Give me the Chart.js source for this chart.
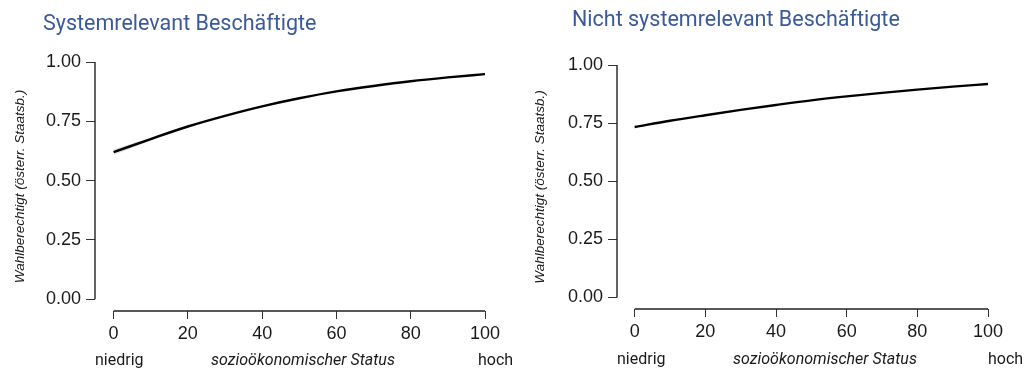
<!DOCTYPE html>
<html>
<head>
<meta charset="utf-8">
<script src="https://cdn.jsdelivr.net/npm/chart.js@4.4.1/dist/chart.umd.min.js"></script>
<style>
  body { margin: 0; background: #fff; width: 1033px; height: 369px; overflow: hidden; position: relative; }
  .panel { position: absolute; top: 0; width: 516px; height: 369px; }
  .title { position: absolute; font: 21.5px Roboto, sans-serif; line-height: 24px; color: #3a5a9a; white-space: nowrap; }
  .lab { position: absolute; font: 16px Roboto, sans-serif; line-height: 16px; color: #1a1a1a; white-space: nowrap; }
  .lab.it { font-style: italic; }
</style>
</head>
<body>
<div class="panel" style="left:0"><canvas id="chartLeft" width="516" height="369"></canvas></div>
<div class="panel" style="left:517px"><canvas id="chartRight" width="516" height="369"></canvas></div>

<div class="title" style="left:43px; top:11px">Systemrelevant Beschäftigte</div>
<div class="title" style="left:572px; top:7px">Nicht systemrelevant Beschäftigte</div>

<div class="lab" style="left:95px; top:352px">niedrig</div>
<div class="lab it" style="left:211px; top:352px">sozioökonomischer Status</div>
<div class="lab" style="left:478px; top:352px">hoch</div>
<div class="lab" style="left:617px; top:351px">niedrig</div>
<div class="lab it" style="left:733px; top:351px">sozioökonomischer Status</div>
<div class="lab" style="left:988px; top:351px">hoch</div>

<script>
// socio-economic status (x)
const statusValues = [0, 10, 20, 30, 40, 50, 60, 70, 80, 90, 100];

// predicted share eligible to vote
const systemRelevant = [0.620, 0.675, 0.728, 0.773, 0.813, 0.847, 0.876, 0.899, 0.919, 0.935, 0.949];
const systemRelevantLow = [0.608, 0.668, 0.724, 0.770, 0.811, 0.845, 0.874, 0.897, 0.917, 0.933, 0.946];
const systemRelevantHigh = [0.632, 0.682, 0.732, 0.776, 0.815, 0.849, 0.878, 0.901, 0.921, 0.937, 0.952];

const notSystemRelevant = [0.733, 0.760, 0.784, 0.807, 0.828, 0.848, 0.865, 0.880, 0.894, 0.907, 0.918];

const xTicks = [0, 20, 40, 60, 80, 100];
const yTicks = [0, 0.25, 0.5, 0.75, 1];
const yTitle = 'Wahlberechtigt (österr. Staatsb.)';

// R-style detached axes: line only from first to last tick
const axisLines = {
    id: 'axisLines',
    afterDraw(chart) {
        const { ctx, chartArea, scales: { x, y } } = chart;
        ctx.save();
        ctx.strokeStyle = '#222';
        ctx.lineWidth = 1.4;
        ctx.beginPath();
        ctx.moveTo(chartArea.left, y.getPixelForValue(yTicks[0]));
        ctx.lineTo(chartArea.left, y.getPixelForValue(yTicks[yTicks.length - 1]));
        ctx.moveTo(x.getPixelForValue(xTicks[0]), chartArea.bottom);
        ctx.lineTo(x.getPixelForValue(xTicks[xTicks.length - 1]), chartArea.bottom);
        ctx.stroke();
        ctx.restore();
    }
};

function makeChart(canvasId, datasets, geo) {
    new Chart(document.getElementById(canvasId).getContext('2d'), {
        type: 'line',
        data: { labels: statusValues, datasets },
        options: {
            responsive: false,
            animation: false,
            layout: { padding: { top: geo.top, right: geo.right, left: 0, bottom: 0 } },
            plugins: { legend: { display: false }, tooltip: { enabled: false } },
            elements: { point: { radius: 0 } },
            scales: {
                x: {
                    type: 'linear',
                    min: -5,
                    max: 100,
                    afterBuildTicks: axis => { axis.ticks = xTicks.map(v => ({ value: v })); },
                    afterFit: scale => { scale.height = geo.xHeight; },
                    border: { display: false },
                    grid: { drawOnChartArea: false, drawTicks: true, tickLength: 8, color: '#333', lineWidth: 1 },
                    ticks: { padding: 4, color: '#1a1a1a', font: { family: 'Liberation Sans', size: 18 }, maxRotation: 0 }
                },
                y: {
                    min: -0.05,
                    max: 1,
                    afterBuildTicks: axis => { axis.ticks = yTicks.map(v => ({ value: v })); },
                    afterFit: scale => { scale.width = geo.yWidth; },
                    border: { display: false },
                    grid: { drawOnChartArea: false, drawTicks: true, tickLength: 9, color: '#333', lineWidth: 1 },
                    ticks: {
                        padding: 5, color: '#1a1a1a', font: { family: 'Liberation Sans', size: 18 },
                        callback: v => v.toFixed(2)
                    },
                    title: {
                        display: true,
                        text: yTitle,
                        color: '#1a1a1a',
                        font: { family: 'Liberation Sans', size: 13.5, style: 'italic' },
                        padding: { top: geo.titlePad, bottom: 0 }
                    }
                }
            }
        },
        plugins: [axisLines]
    });
}

const lineStyle = { borderColor: '#000', borderWidth: 2.4, tension: 0.4, cubicInterpolationMode: 'monotone', fill: false, order: 0 };

makeChart('chartLeft', [
    { data: systemRelevantLow, borderWidth: 0, borderColor: 'rgba(0,0,0,0)', tension: 0.4, fill: false, order: 1 },
    { data: systemRelevantHigh, borderWidth: 0, borderColor: 'rgba(0,0,0,0)', tension: 0.4, fill: '-1', backgroundColor: 'rgba(170,170,170,0.35)', order: 1 },
    { data: systemRelevant, ...lineStyle }
], { top: 62, right: 31, xHeight: 58, yWidth: 95, titlePad: 12 });

makeChart('chartRight', [
    { data: notSystemRelevant, ...lineStyle }
], { top: 65, right: 45, xHeight: 60, yWidth: 100, titlePad: 15 });
</script>
</body>
</html>
